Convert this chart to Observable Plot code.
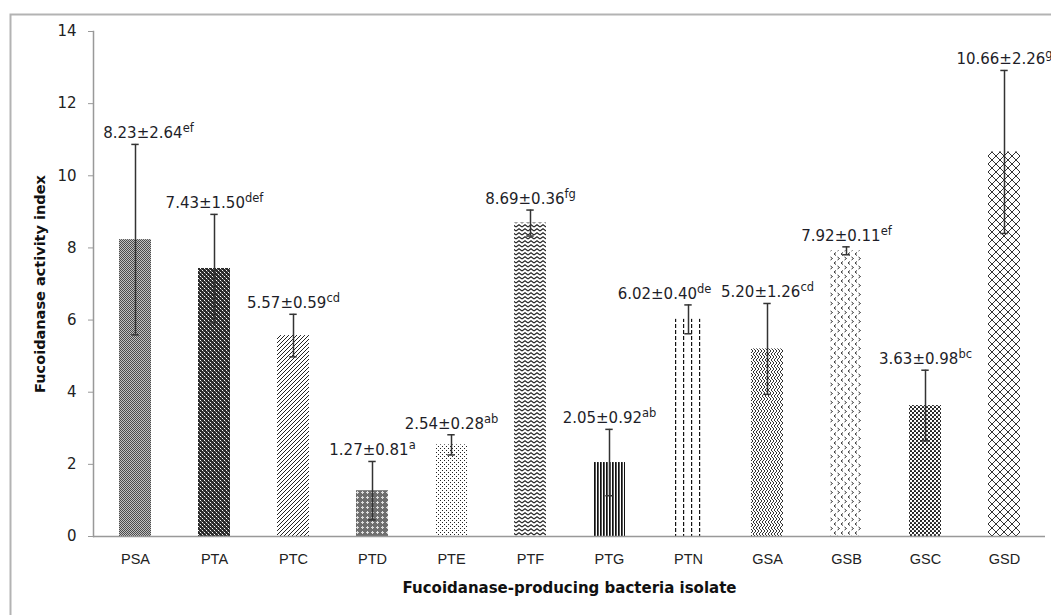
<!DOCTYPE html>
<html><head><meta charset="utf-8">
<script src="https://cdn.jsdelivr.net/npm/d3@7"></script>
<script src="https://cdn.jsdelivr.net/npm/@observablehq/plot@0.6"></script>
<style>body{margin:0;background:#fff;} #chart svg{display:block}</style>
</head><body><div id="chart"></div>
<script>
const isolates = ["PSA","PTA","PTC","PTD","PTE","PTF","PTG","PTN","GSA","GSB","GSC","GSD"];
const means = [8.23,7.43,5.57,1.27,2.54,8.69,2.05,6.02,5.20,7.92,3.63,10.66];
const sds = [2.64,1.50,0.59,0.81,0.28,0.36,0.92,0.40,1.26,0.11,0.98,2.26];
const letters = ["ef","def","cd","a","ab","fg","ab","de","cd","ef","bc","g"];
const yTicks = [0,2,4,6,8,10,12,14];
const xTitle = "Fucoidanase-producing bacteria isolate";
const yTitle = "Fucoidanase activity index";

const data = isolates.map((k,i)=>({k, i, m: means[i], s: sds[i],
  lab: means[i].toFixed(2)+"±"+sds[i].toFixed(2)+"|"+letters[i]}));

const font = "'DejaVu Sans', Verdana, sans-serif";
const errColor = "#333";
// label nudges (layout only, as in the original where two labels were moved to avoid collisions)
const nudge = {PSA: 13, PTN: -24};
const labelMark = (subset, dx) => Plot.text(subset, {x:"k", y: d=>d.m+d.s, text:"lab",
  lineAnchor:"bottom", dy:-6, dx, fontSize:15, fill:"#1e1e28"});

const plot = Plot.plot({
  width: 1051, height: 615,
  marginLeft: 93, marginRight: 6, marginTop: 31, marginBottom: 79,
  x: {domain: isolates, paddingInner: 0.6, paddingOuter: 0.3, label: null},
  y: {domain: [0,14], label: null},
  color: {type: "identity"},
  style: {fontFamily: font, fontSize: "14px", color: "#222", background: "#fff", overflow: "hidden"},
  marks: [
    Plot.frame({stroke:"#b3b3b3", strokeWidth:2, insetLeft:-83, insetTop:-17, insetRight:-30, insetBottom:-100}),
    Plot.barY(data, {x:"k", y:"m", fill: d=>`url(#pat${d.i})`}),
    Plot.ruleX(data, {x:"k", y1: d=>d.m-d.s, y2: d=>d.m+d.s, stroke:errColor, strokeWidth:1.5}),
    Plot.tickY(data, {x:"k", y: d=>d.m+d.s, insetLeft:12.3, insetRight:12.3, stroke:errColor, strokeWidth:1.5}),
    Plot.tickY(data, {x:"k", y: d=>d.m-d.s, insetLeft:12.3, insetRight:12.3, stroke:errColor, strokeWidth:1.5}),
    Plot.ruleY([0], {stroke:"#999", strokeWidth:1.5}),
    Plot.frame({anchor:"left", stroke:"#999", strokeWidth:1.5}),
    Plot.axisY({ticks: yTicks, tickSize:5, tickPadding:12, stroke:"#999", fontSize:15, fill:"#222", label:null}),
    Plot.axisX({tickSize:0, tickPadding:17, fontSize:14.5, fontFamily:"'Liberation Sans', Arial, sans-serif", fill:"#222", label:null}),
    labelMark(data.filter(d=>!(d.k in nudge)), 0),
    ...Object.entries(nudge).map(([k,dx]) => labelMark(data.filter(d=>d.k===k), dx)),
    Plot.text([yTitle], {frameAnchor:"left", textAnchor:"middle", rotate:-90, dx:-53, fontWeight:"bold", fontSize:14.5, fill:"#111"}),
    Plot.text([xTitle], {frameAnchor:"bottom", dy:56, fontWeight:"bold", fontSize:15, fill:"#111"})
  ]
});

// patterns
const svg = d3.select(plot);
const defs = svg.insert("defs", ":first-child");
function pat(id, w, h, bg, draw){
  const p = defs.append("pattern").attr("id", id).attr("patternUnits","userSpaceOnUse")
    .attr("width", w).attr("height", h);
  p.append("rect").attr("width", w).attr("height", h).attr("fill", bg);
  draw(p);
}
const rect = (p,x,y,w,h,c)=>p.append("rect").attr("x",x).attr("y",y).attr("width",w).attr("height",h).attr("fill",c);
const path = (p,d,c,sw)=>p.append("path").attr("d",d).attr("fill","none").attr("stroke",c).attr("stroke-width",sw);
pat("pat0",2,2,"#c0c0c0",p=>{rect(p,0,0,1,1,"#4a4a4a");rect(p,1,1,1,1,"#4a4a4a");});
pat("pat1",4,4,"#2a2a2a",p=>{rect(p,0,0,1,1,"#fff");rect(p,2,2,1,1,"#fff");rect(p,1,1,1,1,"#777");rect(p,3,3,1,1,"#777");});
pat("pat2",4,4,"#fff",p=>{path(p,"M-1,1 L1,-1 M0,4 L4,0 M3,5 L5,3","#222",1);});
pat("pat3",5,5,"#6e6e6e",p=>{rect(p,2,2,1,1,"#fff");rect(p,1,2,3,1,"#ddd");rect(p,2,1,1,3,"#ddd");});
pat("pat4",4,4,"#fff",p=>{rect(p,0,0,1,1,"#222");rect(p,2,2,1,1,"#222");});
pat("pat5",6,4,"#fff",p=>{path(p,"M0,3 L3,0.8 L6,3","#222",1.1);});
pat("pat6",3,3,"#fff",p=>{rect(p,0,0,1.7,3,"#111");});
pat("pat7",8,6,"#fff",p=>{rect(p,3,0,1.2,4,"#111");});
pat("pat8",6,6,"#fff",p=>{path(p,"M0,0 L3,3 L0,6 M3,0 L6,3 L3,6 M-3,0 L0,3 L-3,6 M6,0 L9,3 L6,6","#333",1);});
pat("pat9",7,9,"#fff",p=>{path(p,"M3,0.5 L1,2 L3,3.5 M4.5,5 L6.5,6.5 L4.5,8","#333",1);});
pat("pat10",4,4,"#fff",p=>{p.append("circle").attr("cx",1).attr("cy",1).attr("r",1.1).attr("fill","#111");p.append("circle").attr("cx",3).attr("cy",3).attr("r",1.1).attr("fill","#111");});
pat("pat11",8,8,"#fff",p=>{path(p,"M0,0 L8,8 M8,0 L0,8","#333",1);});

// superscripts
svg.selectAll("text").each(function(){
  const t = d3.select(this);
  const target = t.select("tspan").empty() ? t : t.select("tspan");
  const s = target.text();
  if (s.includes("|")) {
    const [main, sup] = s.split("|");
    target.text(main);
    target.append("tspan").attr("dy", -6).attr("font-size", 11.5).text(sup);
  }
});
document.getElementById("chart").appendChild(plot);
</script>
</body></html>
